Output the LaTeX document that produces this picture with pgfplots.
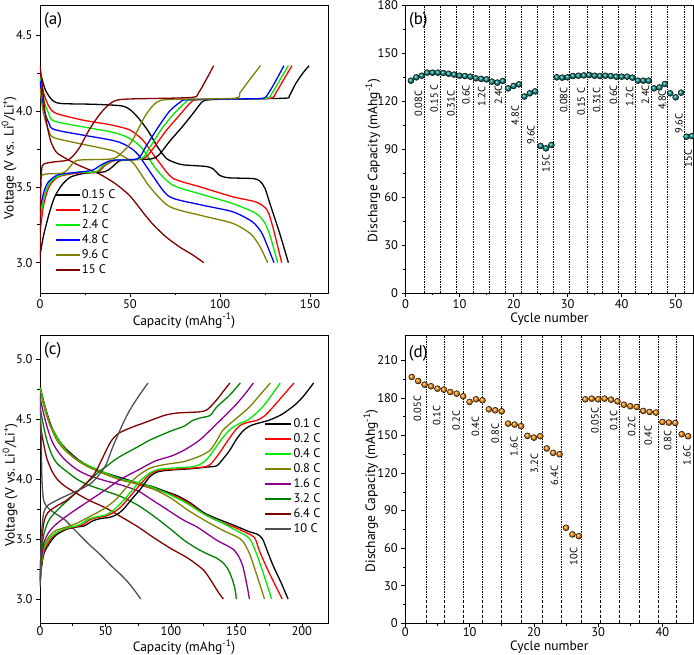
\documentclass[border=0pt]{standalone}
\usepackage{fontspec}
\setmainfont{PT Sans}
\setsansfont{PT Sans}
\usepackage{pgfplots}
\pgfplotsset{compat=1.18}
\usetikzlibrary{shadings}

\definecolor{c15}{RGB}{128,0,0}
\definecolor{colive}{RGB}{128,128,0}
\definecolor{clime}{RGB}{0,235,0}
\definecolor{cpurple}{RGB}{140,0,140}
\definecolor{cdgreen}{RGB}{0,128,0}
\definecolor{cgray}{RGB}{80,80,80}
\definecolor{teal2}{RGB}{0,140,130}
\definecolor{orng}{RGB}{255,140,0}

\tikzset{rate/.style={rotate=90, font=\fontsize{10.5}{11}\selectfont}}

\pgfplotsset{
  panel/.style={
    scale only axis, width=288pt, height=288pt,
    tick pos=left, tick align=outside,
    major tick length=4pt, minor tick length=2.5pt,
    minor x tick num=1, minor y tick num=1,
    axis line style={line width=0.8pt},
    every tick/.style={black, line width=0.6pt},
    tick label style={font=\fontsize{12.5}{13}\selectfont},
    xticklabel style={yshift=1pt},
    label style={font=\fontsize{13.5}{14}\selectfont, inner sep=0pt},
    /pgf/number format/assume math mode=true,
  },
  curve/.style={line width=1.3pt, smooth, tension=0.45, no marks},
  vline/.style={ycomb, black, line width=0.6pt, no marks,
    dash pattern=on 2pt off 1.2pt on 0.6pt off 1.2pt},
  leg/.style={draw=none, fill=none, font=\fontsize{12.5}{13}\selectfont,
    inner sep=0pt, row sep=1pt,
    nodes={inner sep=1.5pt, text height=8.5pt, text depth=2.5pt}},
}

\begin{document}
\begin{tikzpicture}[x=1pt,y=1pt]
\useasboundingbox (0,0) rectangle (694,654);

% ---------------- (a)
\begin{axis}[panel, at={(40pt,361pt)}, anchor=south west,
  xmin=0, xmax=160, ymin=2.8, ymax=4.7,
  xtick={0,50,100,150}, ytick={3.0,3.5,4.0,4.5},
  yticklabel style={/pgf/number format/.cd, fixed, fixed zerofill, precision=1},
  xlabel={Capacity (mAhg\textsuperscript{-1})},
  ylabel={Voltage (V vs. Li\textsuperscript{0}/Li\textsuperscript{+})},
  xlabel style={at={(axis description cs:0.5,-0.096)}, anchor=center},
  ylabel style={at={(axis description cs:-0.107,0.47)}, anchor=center},
  legend style={leg, at={(rel axis cs:0.052,0.365)}, anchor=north west},
  legend cell align=left,
  legend image code/.code={\draw[#1, line width=1.3pt] (0pt,0pt) -- (24pt,0pt);},
]
\addplot[curve, black] coordinates {(0,4.26) (3,4.14) (7,4.07) (12,4.05) (30,4.045) (45,4.035) (50,4.01) (55,3.95) (60,3.87) (65,3.77) (70,3.69) (75,3.66) (80,3.645) (92,3.635) (96,3.62) (100,3.575) (105,3.56) (118,3.555) (122,3.54) (125,3.49) (128,3.38) (133,3.2) (138,3.0)};
\addlegendentry{0.15 C}
\addplot[curve, red] coordinates {(0,4.25) (2,4.12) (5,4.03) (9,3.985) (24,3.94) (39,3.91) (50,3.875) (57,3.81) (62,3.73) (67,3.65) (74,3.556) (89,3.50) (107,3.435) (120,3.40) (126,3.35) (129,3.25) (134.3,3.0)};
\addlegendentry{1.2 C}
\addplot[curve, clime] coordinates {(0,4.22) (2,4.08) (5,3.98) (9,3.93) (39,3.864) (48,3.83) (56,3.765) (65,3.61) (74,3.51) (90,3.45) (107,3.39) (120,3.325) (125,3.26) (128,3.17) (132,3.0)};
\addlegendentry{2.4 C}
\addplot[curve, blue] coordinates {(0,4.2) (2,4.02) (5,3.92) (9,3.875) (39,3.81) (47,3.78) (54,3.72) (63,3.567) (72,3.435) (90,3.38) (107,3.336) (118,3.27) (123,3.2) (126,3.12) (130,3.0)};
\addlegendentry{4.8 C}
\addplot[curve, colive] coordinates {(0,4.15) (2,3.98) (5,3.87) (9,3.82) (39,3.743) (45,3.71) (52,3.655) (61,3.50) (72,3.37) (90,3.31) (107,3.26) (117,3.19) (122,3.11) (126.5,3.0)};
\addlegendentry{9.6 C}
\addplot[curve, c15] coordinates {(0,4.3) (1,4.2) (2.5,4.02) (4,3.9) (6,3.8) (9,3.73) (14,3.69) (22,3.64) (33,3.585) (42,3.52) (50,3.44) (58,3.32) (63,3.25) (70,3.17) (78,3.1) (85,3.05) (91,3.0)};
\addlegendentry{15 C}
% charge
\addplot[curve, black, forget plot] coordinates {(0,3.05) (2,3.18) (5,3.32) (8,3.43) (12,3.51) (17,3.565) (25,3.59) (36,3.60) (40,3.63) (44,3.67) (50,3.68) (62,3.685) (66,3.71) (72,3.8) (80,3.91) (86,4.0) (90,4.06) (94,4.075) (110,4.08) (136,4.085) (138.5,4.1) (142,4.18) (146,4.25) (149.5,4.30)};
\addplot[curve, red, forget plot] coordinates {(0,3.2) (2,3.38) (5,3.5) (10,3.565) (20,3.59) (32,3.6) (36,3.64) (42,3.675) (57,3.685) (62,3.74) (70,3.87) (78,3.98) (84,4.06) (88,4.075) (110,4.08) (128,4.085) (131,4.12) (135,4.2) (140,4.30)};
\addplot[curve, clime, forget plot] coordinates {(0,3.27) (2,3.42) (5,3.52) (10,3.57) (20,3.595) (31,3.6) (35,3.64) (41,3.675) (56,3.685) (61,3.76) (68,3.89) (75,3.99) (81,4.06) (85,4.075) (110,4.08) (126,4.085) (129,4.12) (133,4.2) (138,4.30)};
\addplot[curve, blue, forget plot] coordinates {(0,3.35) (2,3.46) (4.5,3.53) (10,3.58) (20,3.595) (29,3.61) (34,3.645) (40,3.675) (54,3.685) (59,3.77) (66,3.9) (72,4.0) (78,4.06) (82,4.075) (110,4.08) (124,4.085) (127,4.12) (131,4.2) (135.5,4.30)};
\addplot[curve, colive, forget plot] coordinates {(0,3.57) (3,3.585) (12,3.59) (15,3.61) (19,3.665) (23,3.678) (40,3.685) (45,3.72) (51,3.8) (58,3.96) (63,4.04) (67,4.07) (75,4.078) (108,4.085) (111,4.12) (116,4.2) (122.5,4.3)};
\addplot[curve, c15, forget plot] coordinates {(0,3.0) (0.3,3.4) (0.8,3.6) (2,3.65) (8,3.665) (15,3.675) (18,3.7) (22,3.76) (27,3.87) (32,3.96) (37,4.03) (42,4.07) (50,4.08) (84,4.09) (88,4.12) (92,4.2) (96.5,4.3)};
\node[anchor=north west, font=\fontsize{17}{18}\selectfont, inner sep=0pt] at (rel axis cs:0.014,0.975) {(a)};
\end{axis}

% ---------------- (b)
\begin{axis}[panel, at={(405.5pt,361pt)}, anchor=south west,
  xmin=0, xmax=53.3, ymin=0, ymax=180,
  xtick={0,10,20,30,40,50}, ytick={0,30,60,90,120,150,180},
  xlabel={Cycle number},
  ylabel={Discharge Capacity (mAhg\textsuperscript{-1})},
  xlabel style={at={(axis description cs:0.5,-0.09)}, anchor=center},
  ylabel style={at={(axis description cs:-0.113,0.46)}, anchor=center},
]
\addplot[vline] coordinates {(3.5,180) (6.4,180) (9.4,180) (12.5,180) (15.5,180) (18.5,180) (21.5,180) (24.4,180) (27.4,180) (30.4,180) (33.6,180) (36.5,180) (39.4,180) (42.5,180) (45.5,180) (48.5,180) (51.6,180)};
\addplot[only marks, mark=ball, mark size=3pt, ball color=teal2] coordinates {
(1,132.7) (2,134.8) (3,135.8) (4,137.7) (5,137.7) (6,137.7) (7,137.5) (8,137) (9,136.5)
(10,135.8) (11,135.6) (12,135.2) (13,134.2) (14,133.8) (15,133.5) (16,132.1) (17,131.5) (18,132.5)
(19,127.9) (20,129.4) (21,130.4) (22,122.8) (23,124.8) (24,126) (25,91.9) (26,90.4) (27,92.5)
(28,134.8) (29,134.6) (30,134.8) (31,135.6) (32,135.8) (33,136) (34,136.2) (35,135.8) (36,135.6)
(37,135.8) (38,135.6) (39,135.2) (40,135.2) (41,135.2) (42,134.6) (43,132.7) (44,132.7) (45,132.7)
(46,127.9) (47,128.5) (48,130.6) (49,124.8) (50,122.3) (51,125.2) (52,97.7) (53,98.1)};
\node[rate] at (axis cs:2.4,118.5) {0.08C};
\node[rate] at (axis cs:5.3,121.7) {0.15 C};
\node[rate] at (axis cs:8.4,118.5) {0.31C};
\node[rate] at (axis cs:11.2,123.7) {0.6C};
\node[rate] at (axis cs:14.1,122.7) {1.2C};
\node[rate] at (axis cs:17.2,123.7) {2.4C};
\node[rate] at (axis cs:20.3,111) {4.8C};
\node[rate] at (axis cs:23.2,98.7) {9.6C};
\node[rate] at (axis cs:26.0,81) {15C};
\node[rate] at (axis cs:29.3,120.6) {0.08C};
\node[rate] at (axis cs:32.5,119.6) {0.15 C};
\node[rate] at (axis cs:35.4,120.6) {0.31C};
\node[rate] at (axis cs:38.5,123.7) {0.6C};
\node[rate] at (axis cs:41.5,122.7) {1.2C};
\node[rate] at (axis cs:44.4,123.7) {2.4C};
\node[rate] at (axis cs:47.5,120.6) {4.8C};
\node[rate] at (axis cs:50.6,106) {9.6C};
\node[rate] at (axis cs:52.3,84) {15C};
\node[anchor=north west, font=\fontsize{17}{18}\selectfont, inner sep=0pt] at (rel axis cs:0.012,0.975) {(b)};
\end{axis}

% ---------------- (c)
\begin{axis}[panel, at={(40pt,31pt)}, anchor=south west,
  xmin=0, xmax=220, ymin=2.8, ymax=5.2,
  xtick={0,50,100,150,200}, ytick={3.0,3.5,4.0,4.5,5.0},
  xticklabel style={yshift=2.5pt},
  yticklabel style={/pgf/number format/.cd, fixed, fixed zerofill, precision=1},
  xlabel={Capacity (mAhg\textsuperscript{-1})},
  ylabel={Voltage (V vs. Li\textsuperscript{0}/Li\textsuperscript{+})},
  xlabel style={at={(axis description cs:0.5,-0.084)}, anchor=center},
  ylabel style={at={(axis description cs:-0.104,0.48)}, anchor=center},
  legend style={leg, at={(rel axis cs:0.78,0.715694)}, anchor=north west},
  legend cell align=left,
  legend image code/.code={\draw[#1, line width=1.3pt] (0pt,0pt) -- (26pt,0pt);},
]
\addplot[curve, black] coordinates {(0,4.77) (2,4.68) (5,4.56) (9,4.43) (14,4.33) (19,4.26) (25,4.2) (30,4.155) (40,4.09) (50,4.05) (65,4.0) (75,3.965) (85,3.94) (95,3.9) (105,3.86) (115,3.8) (125,3.72) (135,3.67) (148,3.615) (160,3.56) (166,3.54) (170,3.5) (174,3.39) (178,3.28) (184,3.14) (189.5,3.0)};
\addlegendentry{0.1 C}
\addplot[curve, red] coordinates {(0,4.76) (5,4.55) (9,4.42) (19,4.25) (30,4.145) (50,4.04) (75,3.955) (95,3.89) (105,3.85) (115,3.79) (125,3.71) (135,3.655) (148,3.6) (158,3.55) (164,3.51) (168,3.39) (175,3.22) (185,3.0)};
\addlegendentry{0.2 C}
\addplot[curve, clime] coordinates {(0,4.76) (5,4.55) (8.7,4.43) (19,4.25) (30,4.15) (50,4.05) (62,4.0) (75,3.97) (85,3.935) (95,3.89) (110,3.81) (125,3.71) (140,3.63) (150,3.57) (157,3.53) (161,3.49) (166,3.36) (171,3.2) (177,3.0)};
\addlegendentry{0.4 C}
\addplot[curve, colive] coordinates {(0,4.74) (2,4.65) (5,4.53) (8.7,4.42) (13,4.32) (19,4.24) (28,4.16) (37,4.1) (50,4.04) (62,3.99) (75,3.96) (87,3.915) (100,3.84) (113,3.74) (125,3.66) (140,3.57) (150,3.52) (155,3.48) (160,3.38) (165,3.22) (171.5,3.0)};
\addlegendentry{0.8 C}
\addplot[curve, cpurple] coordinates {(0,4.68) (2,4.58) (5,4.45) (8.7,4.325) (13,4.24) (19,4.16) (28,4.08) (37,4.03) (50,3.985) (62,3.95) (75,3.9) (85,3.83) (95,3.76) (110,3.655) (120,3.6) (135,3.49) (142,3.45) (148,3.41) (152,3.35) (155,3.27) (158,3.12) (160,3.0)};
\addlegendentry{1.6 C}
\addplot[curve, cdgreen] coordinates {(0,4.6) (2,4.48) (5,4.33) (8.7,4.21) (13,4.13) (19,4.075) (28,4.0) (37,3.95) (50,3.9) (62,3.853) (75,3.78) (87,3.69) (100,3.58) (110,3.49) (120,3.42) (127,3.38) (135,3.34) (140,3.3) (144,3.24) (147,3.16) (149,3.08) (150,3.0)};
\addlegendentry{3.2 C}
\addplot[curve, c15] coordinates {(0,4.48) (1,4.4) (2.3,4.32) (5,4.18) (8.7,4.075) (13,4.0) (19,3.94) (28,3.88) (37,3.825) (50,3.76) (62,3.685) (75,3.6) (87,3.51) (100,3.42) (113,3.34) (125,3.24) (132,3.13) (136,3.06) (140,3.0)};
\addlegendentry{6.4 C}
\addplot[curve, cgray] coordinates {(0,4.72) (0.8,4.4) (1.5,4.0) (2.5,3.84) (4,3.79) (7,3.75) (12,3.71) (19,3.66) (27,3.57) (37,3.46) (46,3.37) (55,3.27) (62,3.2) (68,3.13) (73,3.06) (77,3.0)};
\addlegendentry{10 C}
% charge
\addplot[curve, black, forget plot] coordinates {(0,3.1) (1,3.25) (3,3.38) (7,3.46) (12,3.53) (20,3.58) (28,3.6) (34,3.61) (40,3.65) (46,3.67) (53,3.68) (58,3.7) (63,3.74) (70,3.83) (77,3.92) (84,4.02) (90,4.06) (100,4.075) (115,4.085) (128,4.1) (135,4.11) (140,4.17) (145,4.24) (150,4.33) (155,4.4) (160,4.44) (165,4.46) (175,4.49) (185,4.54) (195,4.62) (202,4.7) (209,4.8)};
\addplot[curve, red, forget plot] coordinates {(0,3.12) (1,3.27) (3,3.4) (7,3.48) (12,3.545) (20,3.585) (28,3.605) (33,3.62) (38,3.66) (44,3.68) (50,3.69) (56,3.72) (62,3.77) (70,3.87) (77,3.96) (84,4.04) (90,4.07) (100,4.08) (115,4.09) (125,4.1) (130,4.12) (136,4.2) (141,4.28) (146,4.36) (152,4.44) (158,4.47) (166,4.49) (172,4.53) (178,4.6) (186,4.7) (194,4.8)};
\addplot[curve, clime, forget plot] coordinates {(0,3.14) (1,3.29) (3,3.42) (7,3.5) (12,3.55) (20,3.59) (28,3.61) (32,3.63) (37,3.665) (43,3.685) (50,3.7) (56,3.74) (62,3.8) (70,3.9) (77,3.99) (84,4.05) (90,4.08) (100,4.09) (115,4.1) (122,4.12) (128,4.17) (134,4.26) (140,4.35) (146,4.42) (152,4.46) (160,4.5) (170,4.6) (177,4.7) (183.5,4.8)};
\addplot[curve, colive, forget plot] coordinates {(0,3.15) (1,3.3) (3,3.44) (7,3.52) (12,3.57) (20,3.6) (28,3.63) (35,3.67) (42,3.71) (50,3.76) (58,3.83) (66,3.93) (74,4.02) (84,4.09) (95,4.12) (110,4.145) (122,4.19) (130,4.24) (135,4.32) (140,4.41) (150,4.505) (160,4.6) (168,4.7) (176,4.8)};
\addplot[curve, cpurple, forget plot] coordinates {(0,3.15) (1,3.33) (3,3.47) (7,3.56) (13,3.63) (24,3.72) (35,3.8) (50,3.91) (62,4.0) (75,4.075) (88,4.15) (100,4.19) (110,4.24) (122,4.325) (135,4.46) (148,4.6) (156,4.7) (163,4.8)};
\addplot[curve, cdgreen, forget plot] coordinates {(0,3.15) (1,3.38) (3,3.54) (6,3.64) (9,3.69) (15,3.76) (24,3.85) (35,3.96) (45,4.06) (50,4.1) (60,4.18) (75,4.27) (84,4.325) (100,4.4) (110,4.44) (117,4.49) (123,4.51) (130,4.53) (135,4.6) (145,4.7) (153,4.8)};
\addplot[curve, c15, forget plot] coordinates {(0,3.15) (1,3.45) (3,3.64) (6,3.72) (12,3.77) (20,3.82) (28,3.89) (35,3.96) (42,4.05) (48,4.18) (54,4.31) (60,4.38) (70,4.43) (80,4.47) (95,4.53) (105,4.55) (122,4.56) (128,4.58) (135,4.66) (140,4.73) (145,4.8)};
\addplot[curve, cgray, forget plot] coordinates {(0,3.1) (1,3.5) (2.5,3.7) (5,3.77) (9,3.8) (16,3.84) (24,3.88) (32,3.92) (39,3.965) (44,4.02) (50,4.11) (55,4.25) (60,4.38) (65,4.5) (70,4.6) (76,4.7) (82.5,4.8)};
\node[anchor=north west, font=\fontsize{17}{18}\selectfont, inner sep=0pt] at (rel axis cs:0.014,0.975) {(c)};
\end{axis}

% ---------------- (d)
\begin{axis}[panel, at={(405.3pt,30.7pt)}, anchor=south west,
  xmin=0, xmax=44.8, ymin=0, ymax=230,
  xtick={0,10,20,30,40}, ytick={0,30,60,90,120,150,180,210},
  xticklabel style={yshift=2.5pt},
  xlabel={Cycle number},
  ylabel={Discharge Capacity (mAhg\textsuperscript{-1})},
  xlabel style={at={(axis description cs:0.5,-0.082)}, anchor=center},
  ylabel style={at={(axis description cs:-0.12,0.46)}, anchor=center},
]
\addplot[vline] coordinates {(3.3,230) (6.1,230) (9.0,230) (12.0,230) (15.0,230) (18.1,230) (21.3,230) (24.3,230) (27.3,230) (30.3,230) (33.3,230) (36.4,230) (39.3,230) (42.2,230)};
\addplot[only marks, mark=ball, mark size=3pt, ball color=orng] coordinates {
(1,196.7) (2,193.5) (3,190.6) (4,189.3) (5,187.4) (6,186.6) (7,184.7) (8,183.4) (9,181.3)
(10,176.8) (11,178.9) (12,178.1) (13,170.9) (14,170.1) (15,169.3) (16,159.5) (17,158.7) (18,157.4)
(19,149.7) (20,148.3) (21,149.4) (22,139.6) (23,136.1) (24,135.0) (25,76.3) (26,71) (27,69.6)
(28,178.9) (29,179.4) (30,178.9) (31,179.4) (32,178.6) (33,177.3) (34,174.6) (35,173.3) (36,172.8)
(37,169.6) (38,168.8) (39,168.3) (40,160.8) (41,160.3) (42,160.0) (43,151) (44,149.4) (45,148.9)};
\node[rate] at (axis cs:1.9,171.4) {0.05C};
\node[rate] at (axis cs:4.9,166) {0.1C};
\node[rate] at (axis cs:7.9,162) {0.2C};
\node[rate] at (axis cs:10.9,157.4) {0.4C};
\node[rate] at (axis cs:14.0,151.5) {0.8C};
\node[rate] at (axis cs:16.9,141) {1.6C};
\node[rate] at (axis cs:20.1,127.6) {3.2C};
\node[rate] at (axis cs:23.2,118.3) {6.4C};
\node[rate] at (axis cs:26.2,53.2) {10C};
\node[rate] at (axis cs:29.5,162) {0.05C};
\node[rate] at (axis cs:32.4,162) {0.1C};
\node[rate] at (axis cs:35.2,157.4) {0.2C};
\node[rate] at (axis cs:37.8,150) {0.4C};
\node[rate] at (axis cs:40.8,146.2) {0.8C};
\node[rate] at (axis cs:43.8,134.2) {1.6C};
\node[anchor=north west, font=\fontsize{17}{18}\selectfont, inner sep=0pt] at (rel axis cs:0.012,0.965) {(d)};
\end{axis}
\end{tikzpicture}
\end{document}
